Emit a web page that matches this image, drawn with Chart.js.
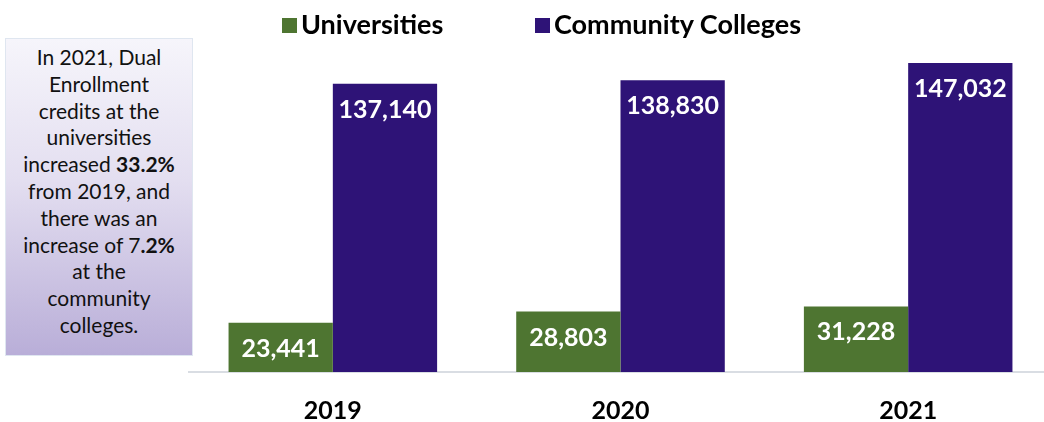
<!DOCTYPE html>
<html>
<head>
<meta charset="utf-8">
<script src="https://cdn.jsdelivr.net/npm/chart.js@4/dist/chart.umd.min.js"></script>
<style>
  html, body { margin: 0; padding: 0; background: #fff; overflow: hidden; width: 1044px; height: 422px; }
  #wrap { position: absolute; left: 0; top: 0; width: 1052px; height: 422px; }
  #note {
    position: absolute; left: 5px; top: 38px; width: 188px; height: 318px;
    box-sizing: border-box; border: 1px solid #dfe6f0;
    background: linear-gradient(to bottom, #f6f5fb 0%, #e3def0 45%, #b9aed8 100%);
    font-family: Lato, "Open Sans", sans-serif; font-size: 21px; line-height: 26.8px;
    color: #111; text-align: center; padding-top: 5px;
  }
  #legend {
    position: absolute; top: 8px; left: 0; width: 1052px; height: 32px;
    font-family: Lato, sans-serif; font-weight: bold; font-size: 27px; color: #000;
  }
  .li { position: absolute; top: 0; white-space: nowrap; line-height: 32px; }
  .sw { display: inline-block; width: 15px; height: 15px; margin-right: 4px; vertical-align: 1px; }
</style>
</head>
<body>
<div id="wrap"><canvas id="c" width="1052" height="422"></canvas></div>
<div id="legend"></div>
<div id="note">In 2021, Dual<br>Enrollment<br>credits at the<br>universities<br>increased <b>33.2%</b><br>from 2019, and<br>there was an<br>increase of 7<b>.2%</b><br>at the<br>community<br>colleges.</div>
<script>
const categories = ["2019", "2020", "2021"];
const seriesNames = ["Universities", "Community Colleges"];
const universities = [23441, 28803, 31228];
const communityColleges = [137140, 138830, 147032];
const colors = ["#4e7531", "#2e1377"];

// HTML legend
const legend = document.getElementById('legend');
const legendX = [282, 535];
seriesNames.forEach((n, i) => {
  const d = document.createElement('div');
  d.className = 'li';
  d.style.left = legendX[i] + 'px';
  d.innerHTML = '<span class="sw" style="background:' + colors[i] + '"></span>' + n;
  legend.appendChild(d);
});

const labelPlugin = {
  id: 'barLabels',
  afterDatasetsDraw(chart) {
    const ctx = chart.ctx;
    ctx.save();
    ctx.font = 'bold 25px Lato, sans-serif';
    ctx.fillStyle = '#ffffff';
    ctx.textAlign = 'center';
    ctx.textBaseline = 'middle';
    chart.data.datasets.forEach((ds, di) => {
      chart.getDatasetMeta(di).data.forEach((bar, i) => {
        ctx.fillText(ds.data[i].toLocaleString('en-US'), bar.x, bar.y + 26);
      });
    });
    ctx.restore();
  }
};

new Chart(document.getElementById('c'), {
  type: 'bar',
  data: {
    labels: categories,
    datasets: [
      { label: seriesNames[0], data: universities, backgroundColor: colors[0], borderWidth: 0 },
      { label: seriesNames[1], data: communityColleges, backgroundColor: colors[1], borderWidth: 0 }
    ]
  },
  options: {
    responsive: false,
    animation: false,
    devicePixelRatio: 1,
    layout: { padding: { left: 189, right: 0, top: 40, bottom: 0 } },
    plugins: { legend: { display: false }, tooltip: { enabled: false } },
    datasets: { bar: { categoryPercentage: 0.725, barPercentage: 1.0 } },
    scales: {
      x: {
        grid: { display: false, drawTicks: false },
        border: { display: true, color: '#d9dde3', width: 2 },
        ticks: { color: '#000', font: { family: 'Lato, sans-serif', weight: 'bold', size: 25 }, padding: 24 },
        afterFit(scale) { scale.height = 50; }
      },
      y: {
        display: false,
        min: 0,
        max: 158000
      }
    }
  },
  plugins: [labelPlugin]
});
</script>
</body>
</html>
